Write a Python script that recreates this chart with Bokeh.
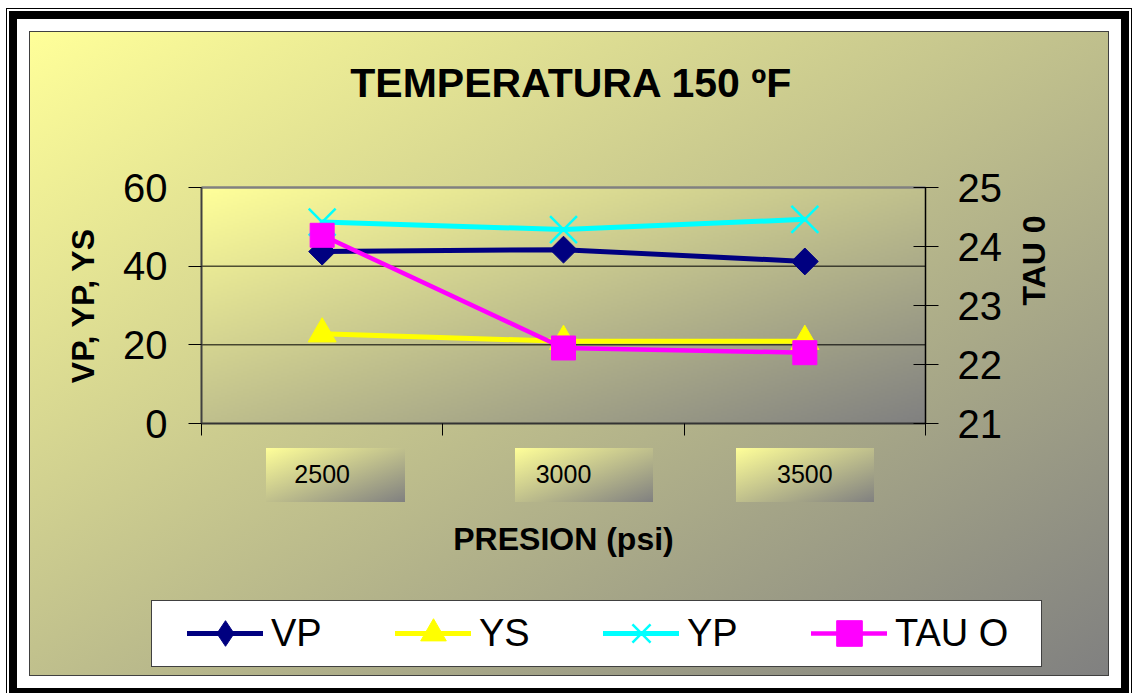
import math
import numpy as np
from bokeh.plotting import figure
from bokeh.models import Range1d, LinearAxis, FixedTicker, Legend, LegendItem
from bokeh.embed import file_html
from bokeh.resources import INLINE

# ---------------- data ----------------
presion = ["2500", "3000", "3500"]
vp = [43.7, 44.2, 41.2]
ys = [22.8, 20.9, 20.9]
yp = [51.2, 49.3, 51.9]
tau0 = [24.19, 22.28, 22.2]
left_ticks = [0, 20, 40, 60]
right_ticks = [21, 22, 23, 24, 25]
title_text = "TEMPERATURA 150 ºF"
series_labels = ["VP", "YS", "YP", "TAU O"]

FONT = "Liberation Sans"
YELLOW_LIGHT = (255, 255, 153)
GRAY = (128, 128, 128)
GRAD = "linear-gradient(to bottom right, #FFFF99, #808080)"

# ---------------- layout (page pixels) ----------------
CHART_L, CHART_T, CHART_R, CHART_B = 30, 32, 1108, 675      # chart area
PA_L, PA_T, PA_R, PA_B = 201, 187, 925, 423                  # plot area
FR_L, FR_T, FR_R, FR_B = 60, 130, 1082, 670                  # drawing frame


def layer(img, x0, y0, w, h):
    return "%s %dpx %dpx / %dpx %dpx no-repeat" % (img, x0 - CHART_L, y0 - CHART_T, w, h)


bg_layers = [
    layer(GRAD, 266, 448, 139, 54),      # tick-label boxes
    layer(GRAD, 515, 448, 138, 54),
    layer(GRAD, 736, 448, 138, 54),
    layer("linear-gradient(#ffffff, #ffffff)", 152, 601, 889, 65),   # legend box
    layer("linear-gradient(#404040, #404040)", 151, 600, 891, 67),
    GRAD,
]

n = len(presion)
x = [i + 0.5 for i in range(n)]
y0, y1 = left_ticks[0], left_ticks[-1]
t0, t1 = right_ticks[0], right_ticks[-1]

# ranges extended so that the plot area maps onto PA_* inside the larger frame
kx = n / (PA_R - PA_L)
ky = (y1 - y0) / (PA_B - PA_T)
kt = (t1 - t0) / (PA_B - PA_T)
x_range = Range1d(0 - (PA_L - FR_L) * kx, n + (FR_R - PA_R) * kx)
y_range = Range1d(y0 - (FR_B - PA_B) * ky, y1 + (PA_T - FR_T) * ky)
tau_range = Range1d(t0 - (FR_B - PA_B) * kt, t1 + (PA_T - FR_T) * kt)

p = figure(frame_width=FR_R - FR_L, frame_height=FR_B - FR_T,
           x_range=x_range, y_range=y_range,
           output_backend="svg", toolbar_location=None,
           min_border_left=FR_L - CHART_L, min_border_right=CHART_R - FR_R,
           min_border_top=FR_T - CHART_T, min_border_bottom=CHART_B - FR_B,
           border_fill_color=None, background_fill_color=None, outline_line_color=None,
           margin=(CHART_T, 0, 0, CHART_L),
           styles={"background": ", ".join(bg_layers),
                   "box-shadow": "0 0 0 1px #404040, 0 0 0 13px #ffffff, 0 0 0 21px #000000, "
                                 "0 0 0 23px #ffffff, 0 0 0 24px #000000"})
p.extra_y_ranges = {"tau": tau_range}
p.xgrid.visible = False
p.ygrid.visible = False

# plot-area gradient (decoration)
H, W = 118, 362
u = np.linspace(0, 1, W)[None, :]
v = np.linspace(0, 1, H)[:, None]
t = (u + (1 - v)) / 2
img = np.empty((H, W), dtype=np.uint32)
view = img.view(dtype=np.uint8).reshape((H, W, 4))
for k in range(3):
    view[:, :, k] = np.round(YELLOW_LIGHT[k] + (GRAY[k] - YELLOW_LIGHT[k]) * t).astype(np.uint8)
view[:, :, 3] = 255
p.image_rgba(image=[img], x=0, y=y0, dw=n, dh=y1 - y0, level="image")

# grid lines + plot-area border
gticks = left_ticks[1:-1]
p.segment(x0=[0] * len(gticks), x1=[n] * len(gticks), y0=gticks, y1=gticks,
          line_color="black", line_width=1)
p.segment(x0=[0], x1=[n], y0=[y1], y1=[y1], line_color="#808080", line_width=2.5)

# left axis
ax_l = p.yaxis[0]
ax_l.ticker = FixedTicker(ticks=left_ticks)
ax_l.fixed_location = 0
ax_l.bounds = (y0, y1)
ax_l.axis_label = "VP, YP, YS"
ax_l.axis_label_text_font = FONT
ax_l.axis_label_text_font_size = "32px"
ax_l.axis_label_text_font_style = "bold"
ax_l.axis_label_text_color = "black"
ax_l.axis_label_standoff = 19
ax_l.major_label_text_font = FONT
ax_l.major_label_text_font_size = "40px"
ax_l.major_label_text_color = "black"
ax_l.major_label_standoff = 21
ax_l.major_tick_out = 13
ax_l.major_tick_in = 0
ax_l.minor_tick_out = 0
ax_l.minor_tick_in = 0
ax_l.major_tick_line_color = "black"
ax_l.axis_line_color = "#404040"
ax_l.axis_line_width = 2
ax_l.level = "overlay"

# bottom axis
ax_b = p.xaxis[0]
ax_b.ticker = FixedTicker(ticks=x, minor_ticks=list(range(n + 1)))
ax_b.fixed_location = y0
ax_b.bounds = (0, n)
ax_b.major_label_overrides = {xi: lab for xi, lab in zip(x, presion)}
ax_b.major_label_text_font = FONT
ax_b.major_label_text_font_size = "25px"
ax_b.major_label_text_color = "black"
ax_b.major_label_standoff = 29
ax_b.major_tick_out = 0
ax_b.major_tick_in = 0
ax_b.minor_tick_out = 12
ax_b.minor_tick_in = 0
ax_b.minor_tick_line_color = "black"
ax_b.axis_line_color = "#333333"
ax_b.axis_line_width = 2
ax_b.axis_label = "PRESION (psi)"
ax_b.axis_label_text_font = FONT
ax_b.axis_label_text_font_size = "32px"
ax_b.axis_label_text_font_style = "bold"
ax_b.axis_label_text_color = "black"
ax_b.axis_label_standoff = 35
ax_b.level = "overlay"

# right axis
ax_r = LinearAxis(y_range_name="tau", ticker=FixedTicker(ticks=right_ticks),
                  fixed_location=n, bounds=(t0, t1),
                  major_label_text_font=FONT, major_label_text_font_size="40px",
                  major_label_text_color="black", major_label_standoff=19,
                  major_tick_in=12, major_tick_out=13, minor_tick_in=0, minor_tick_out=0,
                  major_tick_line_color="black", axis_line_color="black", axis_line_width=1.5,
                  axis_label="TAU 0", axis_label_text_font=FONT, axis_label_text_font_size="32px",
                  axis_label_text_font_style="bold", axis_label_text_color="black",
                  axis_label_standoff=29, level="overlay")
if "axis_label_orientation" in ax_r.properties():
    ax_r.axis_label_orientation = math.pi / 2
p.add_layout(ax_r, "right")

# series
l_vp = p.line(x, vp, line_color="#000080", line_width=5, line_join="round", line_cap="round")
s_vp = p.scatter(x, vp, marker="square", angle=math.pi / 4, size=19,
                 fill_color="#000080", line_color="#000080")
# legend-only diamond (the legend does not rotate markers)
s_vp_key = p.scatter(x, vp, marker="diamond", size=19, fill_color="#000080",
                     line_color="#000080", visible=False)
l_ys = p.line(x, ys, line_color="#FFFF00", line_width=5, line_join="round", line_cap="round")
s_ys = p.scatter(x, ys, marker="triangle", size=28, fill_color="#FFFF00", line_color="#FFFF00")
l_yp = p.line(x, yp, line_color="#00FFFF", line_width=5, line_join="round", line_cap="round")
s_yp = p.scatter(x, yp, marker="x", size=38, line_color="#00FFFF", line_width=2.5)
l_tau = p.line(x, tau0, y_range_name="tau", line_color="#FF00FF", line_width=4.5,
               line_join="round", line_cap="round")
s_tau = p.scatter(x, tau0, y_range_name="tau", marker="square", size=24,
                  fill_color="#FF00FF", line_color="#FF00FF")

# legend (inside the drawing frame, over the CSS legend box)
GH = 64
legend = Legend(items=[LegendItem(label=series_labels[0], renderers=[l_vp, s_vp_key]),
                       LegendItem(label=series_labels[1], renderers=[l_ys, s_ys]),
                       LegendItem(label=series_labels[2], renderers=[l_yp, s_yp]),
                       LegendItem(label=series_labels[3], renderers=[l_tau, s_tau])],
                orientation="horizontal", location=(187 - FR_L, FR_B - (633 + GH // 2)),
                glyph_width=76, glyph_height=GH, label_width=116, label_height=GH,
                label_standoff=8, spacing=8, padding=0, margin=0,
                background_fill_alpha=0, border_line_alpha=0,
                label_text_font=FONT, label_text_font_size="38px", label_text_color="black")
p.add_layout(legend)

# title
p.title.text = title_text
p.title.text_font = FONT
p.title.text_font_size = "41px"
p.title.text_font_style = "bold"
p.title.text_color = "black"
p.title.align = "center"
p.title.standoff = 49

open("out.html", "w").write(file_html(p, INLINE))
